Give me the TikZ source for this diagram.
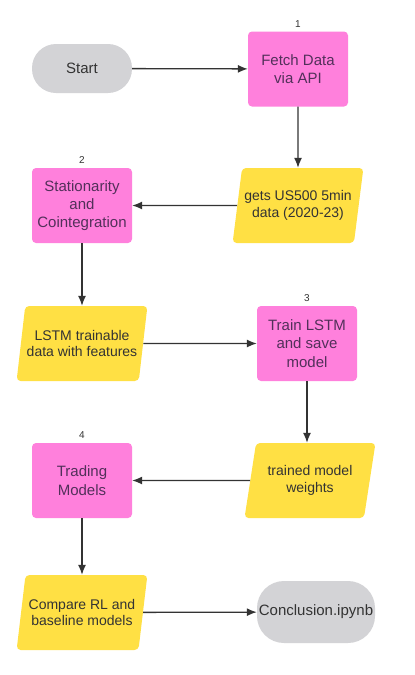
\documentclass[tikz,border=0pt]{standalone}
\usepackage{fontspec}
\setmainfont{Liberation Sans}
\usetikzlibrary{positioning,shapes.geometric,arrows.meta}
\definecolor{process}{HTML}{FF80DC}
\definecolor{dataio}{HTML}{FFE044}
\definecolor{terminal}{HTML}{D3D3D6}
\definecolor{ink}{HTML}{333333}
\definecolor{inkpink}{HTML}{52305A}
\tikzset{
  box/.style={rectangle, rounded corners=4pt, fill=process, text=inkpink,
    minimum width=100pt, minimum height=75pt, align=center,
    font=\fontsize{15}{18.3}\selectfont},
  io/.style={trapezium, trapezium left angle=76, trapezium right angle=104,
    trapezium stretches=true, rounded corners=4pt, fill=dataio, text=ink,
    minimum width=131pt, minimum height=75pt, align=center, inner xsep=0pt,
    font=\fontsize{14}{16.8}\selectfont},
  ends/.style={rectangle, rounded corners=24pt, fill=terminal, text=ink,
    minimum height=49pt, inner xsep=0pt, font=\fontsize{15}{18}\selectfont},
  stepnum/.style={inner sep=0pt, text=ink, font=\fontsize{10}{12}\selectfont},
  flow/.style={-{Latex[length=10pt,width=8pt]}, draw=ink, line width=1.3pt}
}
\begin{document}
\begin{tikzpicture}[x=1pt, y=-1pt]
      \fill[white] (0,0) rectangle (415,675);
      \useasboundingbox (0,0) rectangle (415,675);

      % Terminals
      \node[ends, minimum width=100pt] (start) at (82,68.5) {Start};
      \node[ends, minimum width=118pt, minimum height=62pt, rounded corners=27pt] (conclusion) at (316,612) {Conclusion.ipynb};

      % Steps
      \node[box] (fetch) at (298,69) {Fetch Data\\via API};
      \node[box] (station) at (82,205.5) {Stationarity\\and\\Cointegration};
      \node[box] (train) at (307,343.5) {Train LSTM\\and save\\model};
      \node[box] (trading) at (82,480.5) {Trading\\Models};

      % Data
      \node[io] (gets) at (298,205.5) {gets US500 5min\\data (2020-23)};
      \node[io] (lstmdata) at (82,343.5) {LSTM trainable\\data with features};
      \node[io] (weights) at (310,480.5) {trained model\\weights};
      \node[io] (compare) at (82,612.5) {Compare RL and\\baseline models};

      % Step numbers
      \node[stepnum, above=4pt of fetch] (num1) {1};
      \node[stepnum, above=4pt of station] (num2) {2};
      \node[stepnum, above=4pt of train] (num3) {3};
      \node[stepnum, above=4pt of trading] (num4) {4};

      % Arrows
      \draw[flow] (start) -- (fetch);
      \draw[flow] (fetch) -- (gets);
      \draw[flow] (gets) -- (station);
      \draw[flow] (station) -- (lstmdata);
      \draw[flow] (lstmdata) -- (train);
      \draw[flow] (train.south) -- (train.south |- weights.north);
      \draw[flow] (weights) -- (trading);
      \draw[flow] (trading) -- (compare);
      \draw[flow] (compare) -- (conclusion);
    \end{tikzpicture}
\end{document}
